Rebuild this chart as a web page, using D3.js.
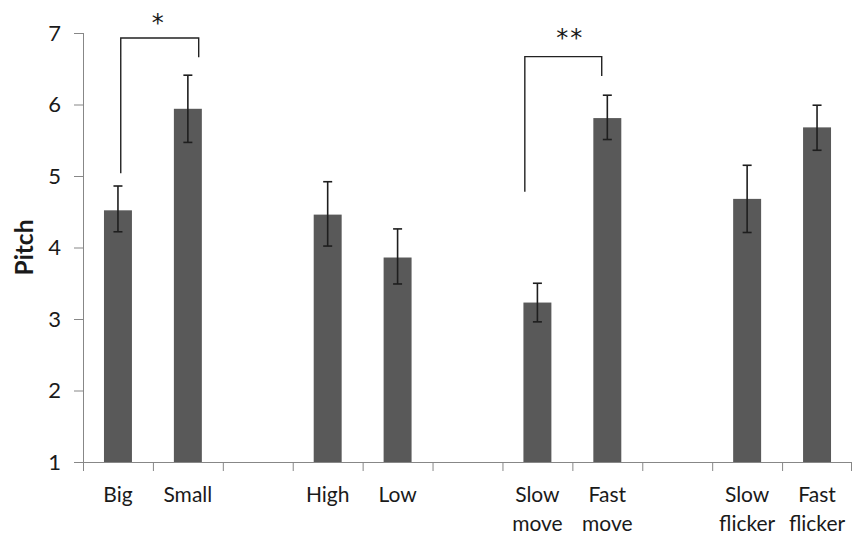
<!DOCTYPE html>
<html>
<head>
<meta charset="utf-8">
<script src="https://cdn.jsdelivr.net/npm/d3@7"></script>
<style>
  html, body { margin: 0; padding: 0; background: #fff; }
  svg { display: block; }
  text { font-family: Lato, "Open Sans", sans-serif; fill: #1a1a1a; }
</style>
</head>
<body>
<svg id="chart" width="852" height="543"></svg>
<script>
// ---- data ----
const categories = [["Big"], ["Small"], [], ["High"], ["Low"], [], ["Slow", "move"], ["Fast", "move"], [], ["Slow", "flicker"], ["Fast", "flicker"]];
const means      = [4.52, 5.94, null, 4.46, 3.86, null, 3.23, 5.81, null, 4.68, 5.68];
const errUp      = [0.34, 0.47, null, 0.46, 0.40, null, 0.27, 0.32, null, 0.47, 0.31];
const errDown    = [0.30, 0.47, null, 0.44, 0.37, null, 0.27, 0.30, null, 0.47, 0.32];
const yTicks     = [1, 2, 3, 4, 5, 6, 7];
const yLabel     = "Pitch";
// significance brackets
const brackets = [
  {from: 0, to: 1, topVal: 6.93, leftEnd: 5.04, rightEnd: 6.66, label: "*",  dxL: 0.04, dxR: 0.155, dxLabel: 0.07, labelVal: 7.22},
  {from: 6, to: 7, topVal: 6.67, leftEnd: 4.78, rightEnd: 6.40, label: "**", dxL: -0.18, dxR: -0.08, dxLabel: -0.03, labelVal: 7.02}
];

(function () {
const svg = d3.select("#chart");
const mLeft = 83, mRight = 852, mTop = 33, mBottom = 462;

const x = d3.scaleBand().domain(d3.range(categories.length)).range([mLeft, mRight]).paddingInner(0).paddingOuter(0);
const y = d3.scaleLinear().domain([1, 7]).range([mBottom, mTop]);
const bw = x.bandwidth();
const barW = bw * 0.4;
const axisColor = "#878787";

// bars
const idx = d3.range(categories.length).filter(i => means[i] != null);
svg.append("g").selectAll("rect").data(idx).join("rect")
  .attr("x", i => x(i) + (bw - barW) / 2)
  .attr("width", barW)
  .attr("y", i => y(means[i]))
  .attr("height", i => y(1) - y(means[i]))
  .attr("fill", "#595959");

// error bars
const eg = svg.append("g").attr("stroke", "#1e1e1e").attr("stroke-width", 1.6);
const capW = 9;
idx.forEach(i => {
  const cx = x(i) + bw / 2;
  const y1 = y(means[i] + errUp[i]), y2 = y(means[i] - errDown[i]);
  eg.append("line").attr("x1", cx).attr("x2", cx).attr("y1", y1).attr("y2", y2);
  eg.append("line").attr("x1", cx - capW / 2).attr("x2", cx + capW / 2).attr("y1", y1).attr("y2", y1);
  eg.append("line").attr("x1", cx - capW / 2).attr("x2", cx + capW / 2).attr("y1", y2).attr("y2", y2);
});

// y axis
const yAxis = d3.axisLeft(y).tickValues(yTicks).tickSize(9).tickPadding(13).tickFormat(d3.format("d"));
const gy = svg.append("g").attr("transform", `translate(${mLeft},0)`).call(yAxis);
gy.select(".domain").attr("stroke", axisColor).attr("d", `M0.5,${mTop}V${mBottom}`);
gy.selectAll(".tick line").attr("stroke", axisColor);
gy.selectAll(".tick text").attr("font-size", 22).attr("font-family", "Lato, sans-serif").attr("fill", "#1a1a1a");

// x axis line and boundary ticks
const gx = svg.append("g");
gx.append("line").attr("x1", mLeft).attr("x2", mRight).attr("y1", mBottom + 0.5).attr("y2", mBottom + 0.5).attr("stroke", axisColor);
const bounds = d3.range(categories.length + 1).map(k => mLeft + k * bw);
gx.selectAll(".bt").data(bounds).join("line")
  .attr("x1", d => Math.min(d, mRight - 1) + 0.5).attr("x2", d => Math.min(d, mRight - 1) + 0.5)
  .attr("y1", mBottom).attr("y2", mBottom + 9).attr("stroke", axisColor);

// x labels
categories.forEach((lines, i) => {
  const t = svg.append("text").attr("text-anchor", "middle").attr("font-size", 21)
    .attr("x", x(i) + bw / 2).attr("y", 502);
  lines.forEach((s, j) => t.append("tspan").attr("x", x(i) + bw / 2).attr("dy", j === 0 ? 0 : 29).text(s));
});

// y label
svg.append("text").attr("transform", `translate(33,${(mTop + mBottom) / 2}) rotate(-90)`)
  .attr("text-anchor", "middle").attr("font-size", 24.5).attr("font-weight", "bold").text(yLabel);

// significance brackets
brackets.forEach(b => {
  const xl = x(b.from) + bw / 2 + b.dxL * bw;
  const xr = x(b.to) + bw / 2 + b.dxR * bw;
  svg.append("path")
    .attr("d", `M${xl},${y(b.leftEnd)}V${y(b.topVal)}H${xr}V${y(b.rightEnd)}`)
    .attr("fill", "none").attr("stroke", "#222").attr("stroke-width", 1.4);
  svg.append("text").attr("text-anchor", "middle").attr("font-size", 24)
    .style("font-family", "'DejaVu Sans', sans-serif")
    .attr("letter-spacing", b.label.length > 1 ? 2 : 0)
    .attr("x", (x(b.from) + x(b.to) + bw) / 2 + b.dxLabel * bw)
    .attr("y", y(b.labelVal) + 14)
    .text(b.label);
});
})();
</script>
</body>
</html>
